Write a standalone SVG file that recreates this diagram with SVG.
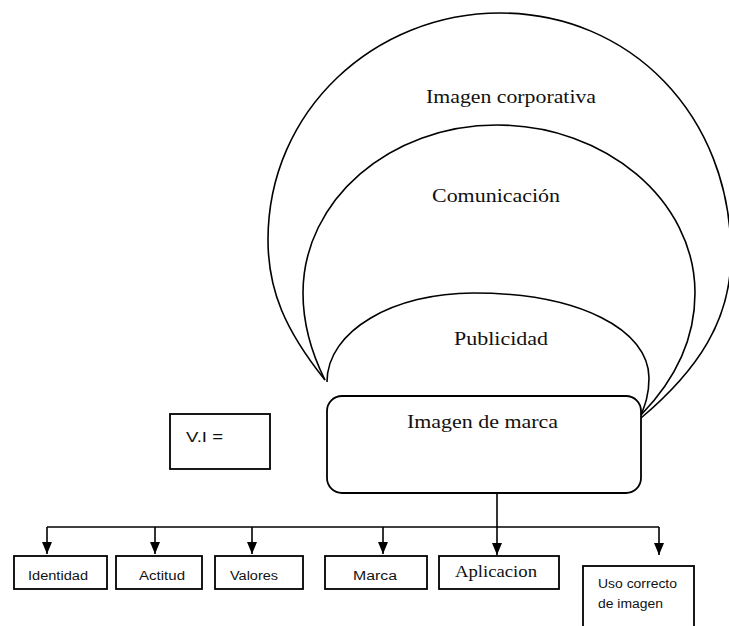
<svg xmlns="http://www.w3.org/2000/svg" width="729" height="626" viewBox="0 0 729 626">
<style>
.ln{fill:none;stroke:#000;stroke-width:1.6}
.bx{fill:#fff;stroke:#000;stroke-width:1.8}
.sr{font-family:"Liberation Serif","Times New Roman",serif;font-size:19px;fill:#111}
.ss{font-family:"Liberation Sans",Arial,sans-serif;font-size:12px;fill:#111}
</style>
<defs>
<marker id="ah" viewBox="0 0 12 10" refX="12" refY="5" markerWidth="12" markerHeight="10" markerUnits="userSpaceOnUse" orient="auto">
<path d="M0,0 L12,5 L0,10 Z" fill="#000"/>
</marker>
</defs>
<rect width="729" height="626" fill="#fff"/>
<g id="imagen-corporativa">
<path class="ln" d="M325,380 C285,330 268,290 268,240 C268,110 375,13 500,13 C630,13 731,115 731,255 C731,320 698,370 641,418"/>
<text class="sr" x="426" y="103" textLength="170" lengthAdjust="spacingAndGlyphs">Imagen corporativa</text>
</g>
<g id="comunicacion">
<path class="ln" d="M325,380 C310,350 303,320 303,293 C303,200 390,125 497,125 C605,125 695,200 695,293 C695,340 675,380 641,415"/>
<text class="sr" x="432" y="202" textLength="128" lengthAdjust="spacingAndGlyphs">Comunicación</text>
</g>
<g id="publicidad">
<path class="ln" d="M327,382 C327,330 395,293 473,293 C580,293 649,330 649,378 C649,395 645,405 641,415"/>
<text class="sr" x="454" y="345" textLength="94" lengthAdjust="spacingAndGlyphs">Publicidad</text>
</g>
<g id="imagen-de-marca">
<rect class="bx" x="327" y="396" width="314" height="97" rx="15"/>
<text class="sr" x="407" y="428" textLength="151" lengthAdjust="spacingAndGlyphs">Imagen de marca</text>
</g>
<g id="vi">
<rect class="bx" x="170" y="414" width="100" height="55"/>
<text class="ss" x="186" y="442" style="font-size:15px" textLength="37" lengthAdjust="spacingAndGlyphs">V.I =</text>
</g>
<g id="connectors">
<path class="ln" d="M47,527 H659"/>
<path class="ln" d="M497,493 V555" marker-end="url(#ah)"/>
<path class="ln" d="M47,527 V554" marker-end="url(#ah)"/>
<path class="ln" d="M155,527 V554" marker-end="url(#ah)"/>
<path class="ln" d="M252,527 V554" marker-end="url(#ah)"/>
<path class="ln" d="M383,527 V554" marker-end="url(#ah)"/>
<path class="ln" d="M659,527 V555" marker-end="url(#ah)"/>
</g>
<g id="identidad">
<rect class="bx" x="14" y="556" width="93" height="33"/>
<text class="ss" x="28" y="580" textLength="60" lengthAdjust="spacingAndGlyphs">Identidad</text>
</g>
<g id="actitud">
<rect class="bx" x="116" y="556" width="86" height="33"/>
<text class="ss" x="139" y="580" textLength="46" lengthAdjust="spacingAndGlyphs">Actitud</text>
</g>
<g id="valores">
<rect class="bx" x="215" y="556" width="88" height="33"/>
<text class="ss" x="230" y="580" textLength="48" lengthAdjust="spacingAndGlyphs">Valores</text>
</g>
<g id="marca">
<rect class="bx" x="325" y="556" width="102" height="33"/>
<text class="ss" x="353" y="580" textLength="44" lengthAdjust="spacingAndGlyphs">Marca</text>
</g>
<g id="aplicacion">
<rect class="bx" x="439" y="556" width="120" height="33"/>
<text class="sr" x="455" y="577" style="font-size:17px" textLength="82" lengthAdjust="spacingAndGlyphs">Aplicacion</text>
</g>
<g id="uso-correcto">
<rect class="bx" x="583" y="566" width="111" height="70"/>
<text class="ss" x="598" y="588" textLength="79" lengthAdjust="spacingAndGlyphs">Uso correcto</text>
<text class="ss" x="598" y="608" textLength="65" lengthAdjust="spacingAndGlyphs">de imagen</text>
</g>
</svg>
